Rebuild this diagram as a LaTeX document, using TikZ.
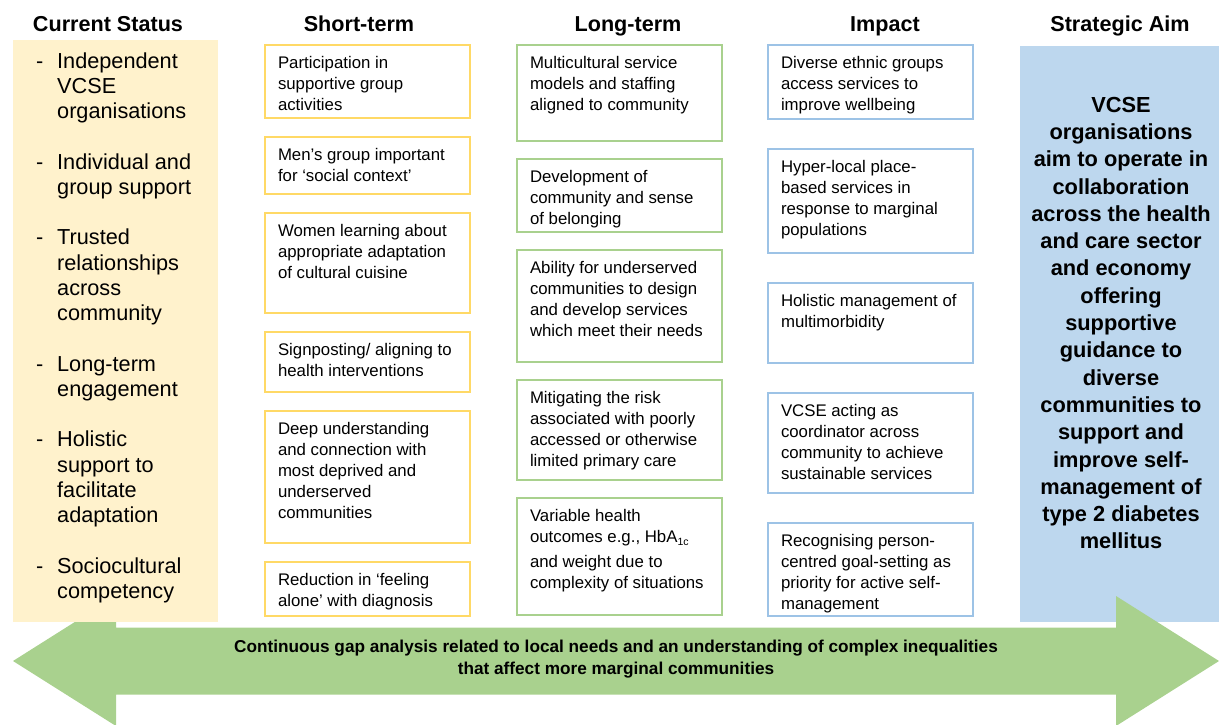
\documentclass[tikz,border=0pt]{standalone}
\usepackage{fontspec}
\setmainfont{Liberation Sans}
\usetikzlibrary{positioning}

\definecolor{statusfill}{HTML}{FFF2CC}
\definecolor{shortline}{HTML}{FFD966}
\definecolor{longline}{HTML}{A9D18E}
\definecolor{impactline}{HTML}{9DC3E6}
\definecolor{aimfill}{HTML}{BDD7EE}
\definecolor{gapfill}{HTML}{A9D18E}

% framed cell: height, lines (text kept at the top)
\newcommand{\boxtext}[2]{\parbox[c][#1][t]{205pt}{\raggedright\leftskip=13pt\rule{0pt}{23pt}#2}}
\newcommand{\lowsub}[1]{\raisebox{-3.5pt}{\fontsize{10.5}{12}\selectfont #1}}

\begin{document}
\begin{tikzpicture}[
          x=1pt, y=-1pt,
          head/.style={font=\bfseries\fontsize{21.6}{26}\selectfont, anchor=base, inner sep=0pt},
          cellbox/.style={line width=1.1pt, inner sep=0pt, outer sep=0pt, font=\fontsize{16.8}{21}\selectfont},
          shortbox/.style={cellbox, draw=shortline},
          longbox/.style={cellbox, draw=longline},
          impactbox/.style={cellbox, draw=impactline}
        ]
        \useasboundingbox (0,0) rectangle (1219,724);

        % columns in the background
        \node[fill=aimfill, minimum width=199pt, minimum height=576pt, inner sep=0pt, anchor=north west] (aim) at (1020,46) {};
        \fill[gapfill] (13,661) -- (116,596) -- (116,627.5) -- (1116,627.5) -- (1116,596) -- (1219,661)
          -- (1116,726) -- (1116,694.5) -- (116,694.5) -- (116,726) -- cycle;
        \node[fill=statusfill, minimum width=205pt, minimum height=582pt, inner sep=0pt, anchor=north west] (status) at (13,40) {};

        % headers
        \node[head] (hstatus) at (108,31.5) {Current Status};
        \node[head] (hshort) at (359,31.5) {Short-term};
        \node[head] (hlong) at (628,31.5) {Long-term};
        \node[head] (himpact) at (885,31.5) {Impact};
        \node[head] (haim) at (1120,31.5) {Strategic Aim};

        % current status
        \node[anchor=base west, inner sep=0pt, font=\fontsize{21.7}{25.25}\selectfont] (statuslist) at (36,68) {%
          \begin{tabular}[t]{@{}p{21pt}@{}l@{}}
          - & Independent\\ & VCSE\\ & organisations\\[25.25pt]
          - & Individual and\\ & group support\\[25.25pt]
          - & Trusted\\ & relationships\\ & across\\ & community\\[25.25pt]
          - & Long-term\\ & engagement\\[25.25pt]
          - & Holistic\\ & support to\\ & facilitate\\ & adaptation\\[25.25pt]
          - & Sociocultural\\ & competency
          \end{tabular}};

        % short-term
        \node[shortbox, anchor=north west] (s1) at (265,45) {\boxtext{73pt}{Participation in\\ supportive group\\ activities}};
        \node[shortbox, below=19pt of s1] (s2) {\boxtext{57pt}{Men’s group important\\ for ‘social context’}};
        \node[shortbox, below=19pt of s2] (s3) {\boxtext{100pt}{Women learning about\\ appropriate adaptation\\ of cultural cuisine}};
        \node[shortbox, below=19pt of s3] (s4) {\boxtext{60pt}{Signposting/ aligning to\\ health interventions}};
        \node[shortbox, below=19pt of s4] (s5) {\boxtext{132pt}{Deep understanding\\ and connection with\\ most deprived and\\ underserved\\ communities}};
        \node[shortbox, below=19pt of s5] (s6) {\boxtext{54pt}{Reduction in ‘feeling\\ alone’ with diagnosis}};

        % long-term
        \node[longbox, anchor=north west] (l1) at (517,45) {\boxtext{96pt}{Multicultural service\\ models and staffing\\ aligned to community}};
        \node[longbox, below=18pt of l1] (l2) {\boxtext{73pt}{Development of\\ community and sense\\ of belonging}};
        \node[longbox, below=18pt of l2] (l3) {\boxtext{112pt}{Ability for underserved\\ communities to design\\ and develop services\\ which meet their needs}};
        \node[longbox, below=18pt of l3] (l4) {\boxtext{100pt}{Mitigating the risk\\ associated with poorly\\ accessed or otherwise\\ limited primary care}};
        \node[longbox, below=18pt of l4] (l5) {\boxtext{117pt}{Variable health\\ outcomes e.g., HbA\lowsub{1c}\\[4pt] and weight due to\\ complexity of situations}};

        % impact
        \node[impactbox, anchor=north west] (i1) at (768,45) {\boxtext{74pt}{Diverse ethnic groups\\ access services to\\ improve wellbeing}};
        \node[impactbox, below=30pt of i1] (i2) {\boxtext{104pt}{Hyper-local place-\\ based services in\\ response to marginal\\ populations}};
        \node[impactbox, below=30pt of i2] (i3) {\boxtext{80pt}{Holistic management of\\ multimorbidity}};
        \node[impactbox, below=30pt of i3] (i4) {\boxtext{100pt}{VCSE acting as\\ coordinator across\\ community to achieve\\ sustainable services}};
        \node[impactbox, below=30pt of i4] (i5) {\boxtext{93pt}{Recognising person-\\ centred goal-setting as\\ priority for active self-\\ management}};

        % strategic aim
        \node[font=\bfseries\fontsize{21.8}{27.3}\selectfont, align=center, inner sep=0pt] (aimtext) at (1121,323) {VCSE\\ organisations\\ aim to operate in\\ collaboration\\ across the health\\ and care sector\\ and economy\\ offering\\ supportive\\ guidance to\\ diverse\\ communities to\\ support and\\ improve self-\\ management of\\ type 2 diabetes\\ mellitus};

        % gap analysis
        \node[font=\bfseries\fontsize{17.2}{22}\selectfont, align=center, inner sep=0pt] (gaptext) at (616,659) {Continuous gap analysis related to local needs and an understanding of complex inequalities\\ that affect more marginal communities};
      \end{tikzpicture}
\end{document}
